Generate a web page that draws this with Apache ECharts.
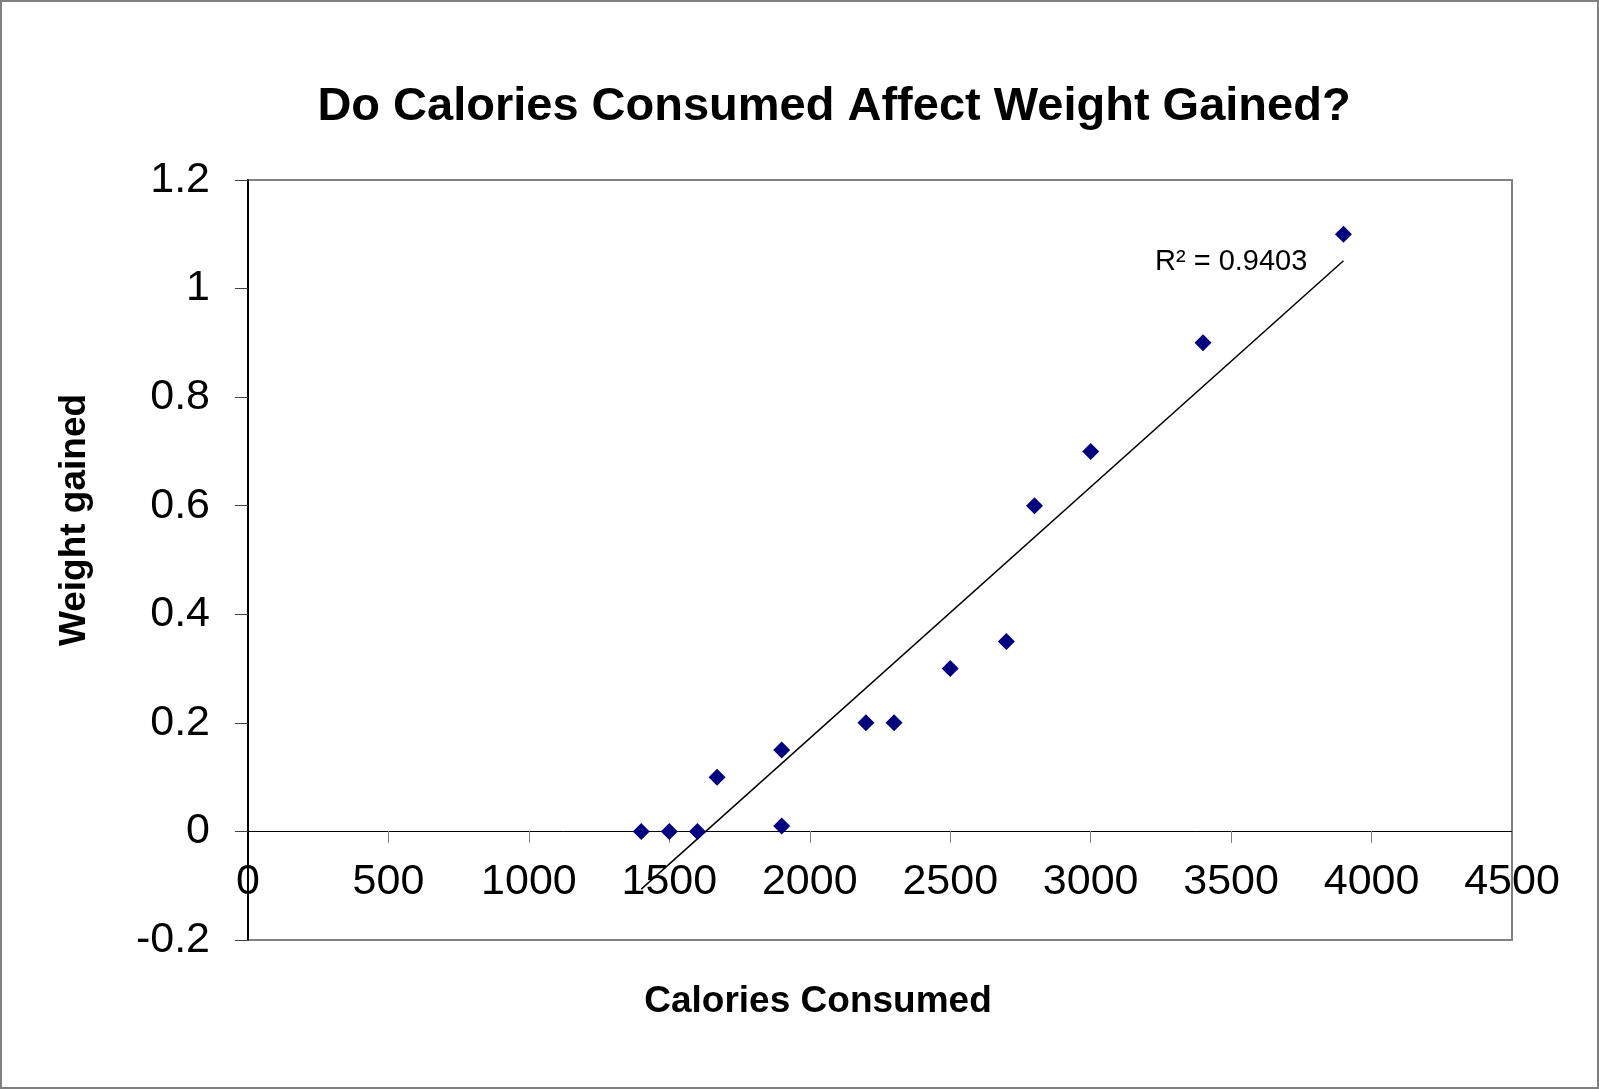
<!DOCTYPE html>
<html>
<head>
<meta charset="utf-8">
<script src="https://cdn.jsdelivr.net/npm/echarts@6/dist/echarts.min.js"></script>
<style>
  html, body { margin: 0; padding: 0; background: #fff; }
  #chart { width: 1599px; height: 1089px; box-sizing: border-box; border: 2px solid #808080; }
</style>
</head>
<body>
<div id="chart"></div>
<script>
// calories consumed vs weight gained
var calories = [1400, 1500, 1600, 1670, 1900, 1900, 2200, 2300, 2500, 2700, 2800, 3000, 3400, 3900];
var weight = [0, 0, 0, 0.1, 0.15, 0.01, 0.2, 0.2, 0.3, 0.35, 0.6, 0.7, 0.9, 1.1];
var xTicks = { min: 0, max: 4500, interval: 500 };
var yTicks = { min: -0.2, max: 1.2, interval: 0.2 };
var r2Text = 'R² = 0.9403';

var font = "'Liberation Sans', Arial, sans-serif";

// least squares trendline over the points
var n = calories.length, sx = 0, sy = 0, sxx = 0, sxy = 0;
for (var i = 0; i < n; i++) {
    sx += calories[i]; sy += weight[i];
    sxx += calories[i] * calories[i]; sxy += calories[i] * weight[i];
}
var slope = (n * sxy - sx * sy) / (n * sxx - sx * sx);
var icept = (sy - slope * sx) / n;
var xMin = Math.min.apply(null, calories), xMax = Math.max.apply(null, calories);
var trend = [[xMin, icept + slope * xMin], [xMax, icept + slope * xMax]];

var points = calories.map(function (c, i) { return [c, weight[i]]; });

var gridTop = 178, gridBottom = 147, H = 1089;
// move the x axis up onto the zero line (labels go with it)
var plotH = H - gridTop - gridBottom;
var zeroShift = plotH * (0 - yTicks.min) / (yTicks.max - yTicks.min);

var chart = echarts.init(document.getElementById('chart'));
chart.setOption({
    animation: false,
    textStyle: { fontFamily: font },
    grid: {
        left: 246, top: gridTop, right: 85, bottom: gridBottom,
        show: true, borderColor: '#808080', borderWidth: 2, backgroundColor: '#fff'
    },
    xAxis: {
        type: 'value',
        position: 'bottom',
        offset: -zeroShift,
        z: 1,
        min: xTicks.min, max: xTicks.max, interval: xTicks.interval,
        splitLine: { show: false },
        axisLine: { onZero: false, lineStyle: { color: '#000', width: 1 } },
        axisTick: { show: true, length: 12, lineStyle: { color: '#808080', width: 1 } },
        axisLabel: {
            fontSize: 43, color: '#000', margin: 30, showMinLabel: true, showMaxLabel: true, fontFamily: font,
            formatter: function (v) { return String(v); }
        }
    },
    yAxis: {
        type: 'value',
        z: 10,
        min: yTicks.min, max: yTicks.max, interval: yTicks.interval,
        splitLine: { show: false },
        axisLine: { show: true, onZero: false, lineStyle: { color: '#000', width: 2 } },
        axisTick: { show: true, length: 13, lineStyle: { color: '#404040', width: 1 } },
        axisLabel: {
            fontSize: 43, color: '#000', margin: 38, fontFamily: font,
            formatter: function (v) { return String(Math.round(v * 10) / 10); }
        }
    },
    series: [
        {
            type: 'line',
            data: trend,
            symbol: 'none',
            silent: true,
            lineStyle: { color: '#000', width: 1.5 },
            z: 2
        },
        {
            type: 'scatter',
            data: points,
            symbol: 'diamond',
            symbolSize: 17,
            itemStyle: { color: '#000080', opacity: 1 },
            z: 3
        }
    ],
    graphic: [
        {
            type: 'text', x: 832, y: 105,
            style: { text: 'Do Calories Consumed Affect Weight Gained?', font: 'bold 47px ' + font, fill: '#000', textAlign: 'center', textVerticalAlign: 'middle' }
        },
        {
            type: 'text', x: 816, y: 1000,
            style: { text: 'Calories Consumed', font: 'bold 37px ' + font, fill: '#000', textAlign: 'center', textVerticalAlign: 'middle' }
        },
        {
            type: 'text', x: 73, y: 518, rotation: Math.PI / 2,
            style: { text: 'Weight gained', font: 'bold 37px ' + font, fill: '#000', textAlign: 'center', textVerticalAlign: 'middle' }
        },
        {
            type: 'text', x: 1153, y: 260,
            style: { text: r2Text, font: '29px ' + font, fill: '#000', textAlign: 'left', textVerticalAlign: 'middle' }
        }
    ]
});
</script>
</body>
</html>
